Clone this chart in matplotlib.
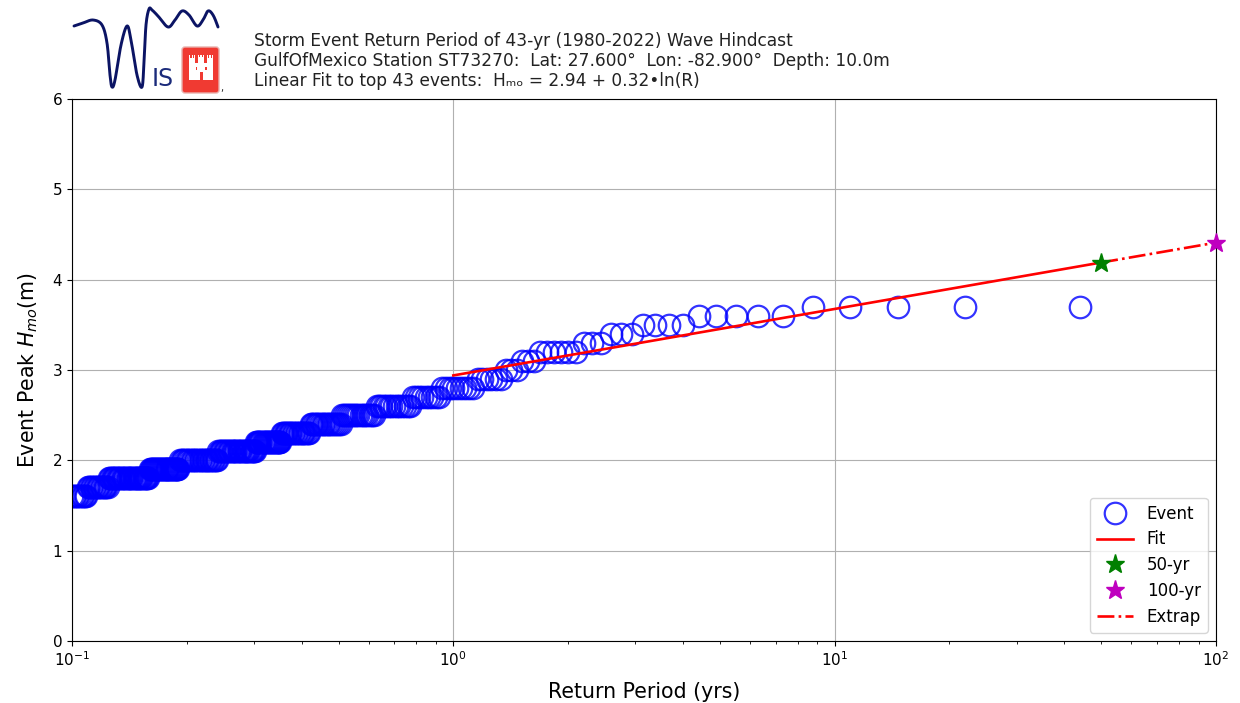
import numpy as np
import matplotlib
matplotlib.use("Agg")
import matplotlib.pyplot as plt
from matplotlib.patches import FancyBboxPatch, Rectangle

# ---- data ----
levels = {
    3.7: [44, 22, 14.67, 11, 8.8],
    3.6: [7.33, 6.286, 5.5, 4.889, 4.4],
    3.5: [4.0, 3.667, 3.385, 3.143],
    3.4: [2.933, 2.75, 2.588],
    3.3: [2.444, 2.316, 2.2],
    3.2: [2.095, 2.0, 1.913, 1.833, 1.76, 1.692],
    3.1: [1.63, 1.571, 1.517],
    3.0: [1.467, 1.419, 1.375],
    2.9: [1.33, 1.294, 1.257, 1.222, 1.189, 1.158],
    2.8: [1.128, 1.1, 1.073, 1.048, 1.023, 1.0, 0.978, 0.957, 0.936],
    2.7: [0.917, 0.898, 0.88, 0.863, 0.846, 0.83, 0.815, 0.80, 0.786],
    2.6: [0.772, 0.759, 0.746, 0.733, 0.721, 0.71, 0.698, 0.688, 0.677, 0.667, 0.657, 0.647, 0.638, 0.629],
    2.5: [0.62, 0.611, 0.603, 0.595, 0.587, 0.579, 0.571, 0.564, 0.557, 0.55, 0.543, 0.537, 0.53, 0.524, 0.518, 0.512],
    2.4: [0.506, 0.5, 0.494, 0.489, 0.484, 0.478, 0.473, 0.468, 0.463, 0.458, 0.454, 0.449, 0.444, 0.44, 0.436, 0.431, 0.427, 0.423],
    2.3: [0.419, 0.415, 0.411, 0.407, 0.404, 0.4, 0.396, 0.393, 0.389, 0.386, 0.383, 0.379, 0.376, 0.373, 0.37, 0.367, 0.364, 0.361, 0.358, 0.355],
    2.2: [0.352, 0.35, 0.348, 0.346, 0.344, 0.342, 0.34, 0.338, 0.336, 0.334, 0.332, 0.33, 0.328, 0.326, 0.324, 0.322, 0.32, 0.318, 0.316, 0.314, 0.312, 0.31, 0.308, 0.306, 0.304],
    2.1: [0.302, 0.3, 0.298, 0.296, 0.294, 0.292, 0.29, 0.288, 0.286, 0.284, 0.282, 0.28, 0.278, 0.276, 0.274, 0.272, 0.27, 0.268, 0.266, 0.264, 0.262, 0.26, 0.258, 0.256, 0.254, 0.252, 0.25, 0.248, 0.246, 0.244, 0.242],
    2.0: [0.24, 0.238, 0.236, 0.234, 0.232, 0.23, 0.228, 0.226, 0.224, 0.222, 0.22, 0.218, 0.216, 0.214, 0.212, 0.21, 0.208, 0.206, 0.204, 0.202, 0.2, 0.198, 0.196, 0.194, 0.192],
    1.9: [0.19, 0.189, 0.188, 0.187, 0.186, 0.185, 0.184, 0.183, 0.182, 0.181, 0.18, 0.179, 0.178, 0.177, 0.176, 0.175, 0.174, 0.173, 0.172, 0.171, 0.17, 0.169, 0.168, 0.167, 0.166, 0.165, 0.164, 0.163, 0.162, 0.161, 0.16],
    1.8: [0.158, 0.157, 0.156, 0.155, 0.154, 0.153, 0.152, 0.151, 0.15, 0.149, 0.148, 0.147, 0.146, 0.145, 0.144, 0.143, 0.142, 0.141, 0.14, 0.139, 0.138, 0.137, 0.136, 0.135, 0.134, 0.133, 0.132, 0.131, 0.13, 0.129, 0.128, 0.127, 0.126, 0.125],
    1.7: [0.124, 0.123, 0.122, 0.121, 0.12, 0.119, 0.118, 0.117, 0.116, 0.115, 0.114, 0.113, 0.112, 0.111, 0.11],
    1.6: [0.109, 0.108, 0.107, 0.106, 0.105, 0.104, 0.103, 0.102, 0.101, 0.1],
}
fit_x = [1, 50]
fit_y = [2.94, 4.19]
extrap_x = [50, 100]
extrap_y = [4.19, 4.41]
star50 = (50, 4.19)
star100 = (100, 4.41)
title_lines = [
    "Storm Event Return Period of 43-yr (1980-2022) Wave Hindcast",
    "GulfOfMexico Station ST73270:  Lat: 27.600\u00b0  Lon: -82.900\u00b0  Depth: 10.0m",
    "Linear Fit to top 43 events:  H\u2098\u2092 = 2.94 + 0.32\u2022ln(R)",
]

W, H = 1240, 703
fig = plt.figure(figsize=(W / 100, H / 100), dpi=100)
ax = fig.add_axes([72 / W, 1 - 641 / H, (1216 - 72) / W, (641 - 99) / H])

event_x = [x for lv in levels for x in levels[lv]]
event_y = [lv for lv in levels for _ in levels[lv]]

ax.semilogx(event_x, event_y, "o", mfc="none", mec="b", ms=15.5, alpha=0.8, mew=1.6, label="Event")
ax.plot(fit_x, fit_y, "r-", lw=1.9, label="Fit")
ax.plot(*star50, "g*", ms=14, label="50-yr", clip_on=False, zorder=5)
ax.plot(*star100, "m*", ms=14, label="100-yr", clip_on=False, zorder=5)
ax.plot(extrap_x, extrap_y, "r-.", lw=1.9, label="Extrap")
ax.set_xlim(0.1, 100)
ax.set_ylim(0, 6)
ax.set_yticks([0, 1, 2, 3, 4, 5, 6])
ax.grid(True, which="major")
ax.tick_params(labelsize=11)
ax.set_xlabel("Return Period (yrs)", fontsize=14.8, labelpad=9)
ax.set_ylabel("Event Peak $H_{mo}$(m)", fontsize=14.8, labelpad=9)
ax.legend(loc="lower right", fontsize=12, handlelength=2.2, labelspacing=0.47)

for i, t in enumerate(title_lines):
    fig.text(254 / W, 1 - (41 + 20 * i) / H, t, fontsize=12.25, color="#222222", va="center", ha="left")

# ---- logo (pixel coordinates) ----
lg = fig.add_axes([0, 0, 1, 1], facecolor="none")
lg.set_xlim(0, W)
lg.set_ylim(H, 0)
lg.axis("off")
wave = np.array([(66, 29), (74, 26), (83, 23), (93, 20), (102, 25), (107, 43), (110, 75), (112, 87), (115, 80),
                 (121, 45), (127, 26), (131, 40), (137, 75), (142, 87), (144, 62), (146, 25), (149, 9),
                 (152, 10), (158, 16), (168, 27), (175, 20), (182, 11), (189, 15), (197, 26), (203, 20),
                 (208, 11), (213, 15), (218, 27), (222, 40)], float)
ts = np.linspace(1, len(wave) - 2, 500)
idx = np.clip(ts.astype(int), 1, len(wave) - 3)
u = (ts - idx)[:, None]
p0, p1, p2, p3 = wave[idx - 1], wave[idx], wave[idx + 1], wave[idx + 2]
curve = 0.5 * (2 * p1 + (p2 - p0) * u + (2 * p0 - 5 * p1 + 4 * p2 - p3) * u**2 + (3 * p1 - p0 - 3 * p2 + p3) * u**3)
lg.plot(curve[:, 0], curve[:, 1], color="#0b1464", lw=2.1, solid_capstyle="round")
lg.text(152, 79, "IS", color="#1a2a7a", fontsize=17, va="center", ha="left")
lg.add_patch(FancyBboxPatch((182, 47), 37, 46, boxstyle="round,pad=0,rounding_size=3", fc="#f03a32", ec="#e8b0ad", lw=1))
for (x, y, w, h) in [(193, 63, 16, 17), (189, 58, 6, 22), (207, 58, 6, 22), (198, 57, 6, 23)]:
    lg.add_patch(Rectangle((x, y), w, h, fc="white", ec="none"))
for x in [189, 191.5, 193.5, 198, 200.3, 202.6, 207, 209.2, 211.5]:
    lg.add_patch(Rectangle((x, 54.5), 1.4, 4, fc="white", ec="none"))
lg.add_patch(Rectangle((199.5, 72), 3, 8, fc="#f03a32", ec="none"))
lg.add_patch(Rectangle((195.5, 67), 1.5, 3, fc="#f03a32", ec="none"))
lg.add_patch(Rectangle((205, 67), 1.5, 3, fc="#f03a32", ec="none"))
lg.text(220, 88, ",", fontsize=7, color="#222222", va="center", ha="left")

fig.savefig("out.png", dpi=100)
